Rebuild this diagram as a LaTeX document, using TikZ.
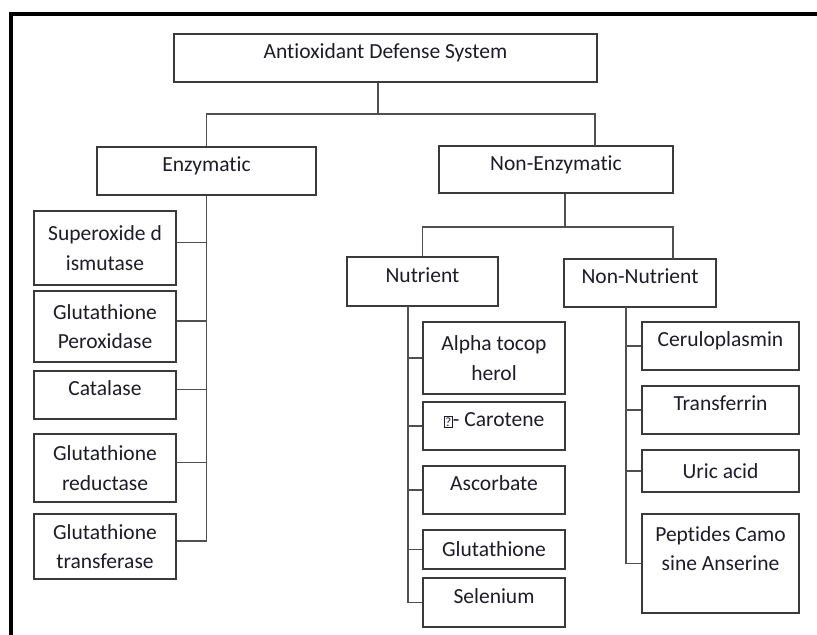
\documentclass[tikz,border=0pt]{standalone}
\usepackage{fontspec}
\setmainfont[Ligatures=NoCommon]{Carlito}
\usepackage{xcolor}
\definecolor{boxc}{HTML}{3A3A3A}
\definecolor{linec}{HTML}{505050}
\definecolor{txtc}{HTML}{1C1C2A}
\newcommand\pxu{0.025cm}
\newcommand\qbox{{\fboxsep=0.7pt\fboxrule=0.5pt\raisebox{0.05ex}{\fbox{\fontsize{9}{9}\selectfont ?}}}}
\tikzset{
  bx/.style 2 args={rectangle,draw=boxc,line width=1.1pt,minimum width=#1*\pxu,minimum height=#2*\pxu,
    inner sep=0pt,align=center,text=txtc,font=\fontsize{15.3}{20.8}\selectfont},
  one/.style={text height=0.7em,text depth=0.6em},
  ln/.style={linec,line width=1.05pt}
}

\begin{document}
\begin{tikzpicture}[x=\pxu,y=-\pxu]
\useasboundingbox (0,0) rectangle (817,635);
\fill[white] (0,0) rectangle (817,635);
\draw[line width=2.2pt] (11,635) -- (11,14) -- (817,14);
% top levels
\node[bx={423}{48},one] (root) at (385.5,58) {Antioxidant Defense System};
\node[bx={219}{48},one] (enz) at (206.5,171) {Enzymatic};
\node[bx={234}{47},one] (ne) at (556,169.5) {Non-Enzymatic};
\node[bx={151}{49},one] (nut) at (422.5,281.5) {Nutrient};
\node[bx={152}{48},one] (nnu) at (640,283) {Non-Nutrient};
% enzymatic
\node[bx={142}{74}] (sod) at (105,248) {Superoxide d\\ismutase};
\node[bx={142}{71}] (gpx) at (105,326.5) {Glutathione\\Peroxidase};
\node[bx={142}{48},one] (cat) at (105,395) {Catalase};
\node[bx={142}{68}] (gre) at (105,468) {Glutathione\\reductase};
\node[bx={142}{65}] (gtf) at (105,546.5) {Glutathione\\transferase};
% nutrient
\node[bx={142}{72}] (alp) at (494,358) {Alpha tocop\\herol};
\node[bx={142}{48},one] (car) at (494,426) {\qbox- Carotene};
\node[bx={142}{48},one] (asc) at (494,490) {Ascorbate};
\node[bx={142}{39}] (glu) at (494,549.5) {Glutathione};
\node[bx={142}{49},one] (sel) at (494,602.5) {Selenium};
% non-nutrient
\node[bx={157}{48},one] (cer) at (720.5,346) {Ceruloplasmin};
\node[bx={157}{48},one] (trf) at (720.5,410) {Transferrin};
\node[bx={157}{42}] (uri) at (720.5,471) {Uric acid};
\node[bx={157}{99}] (pep) at (720.5,563.5) {Peptides Camo\\sine Anserine\\\mbox{}};
% joints
\coordinate (jt) at (378,114); \coordinate (ned) at (595,146);
\coordinate (jn) at (565,227); \coordinate (nnd) at (673,259);
\coordinate (nv) at (408,306); \coordinate (mv) at (626,307);
\draw[ln] (root.south -| jt) -- (jt);
\draw[ln] (enz.north) |- (jt) -| (ned);
\draw[ln] (ne.south -| jn) -- (jn);
\draw[ln] (nut.north) |- (jn) -| (nnd);
\foreach \b in {sod,gpx,cat,gre,gtf} \draw[ln] (enz.south) |- ([yshift=4pt]\b.east);
\foreach \b in {alp,car,asc,glu,sel} \draw[ln] (nv) |- (\b.west);
\foreach \b in {cer,trf,uri,pep} \draw[ln] (mv) |- (\b.west);
\end{tikzpicture}
\end{document}
